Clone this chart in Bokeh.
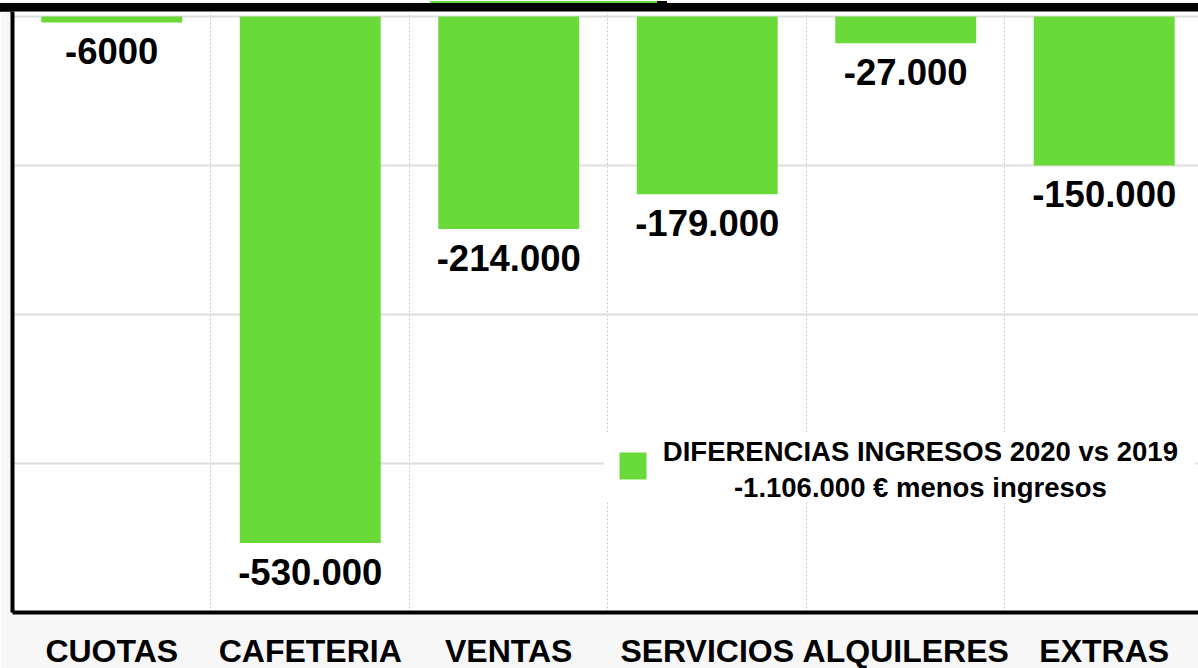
from bokeh.plotting import figure
from bokeh.models import (ColumnDataSource, Range1d, LinearAxis, FixedTicker,
                          BoxAnnotation, Label, Div)
from bokeh.layouts import column
from bokeh.embed import file_html
from bokeh.resources import INLINE

# ---- data ----
categories = ["CUOTAS", "CAFETERIA", "VENTAS", "SERVICIOS", "ALQUILERES", "EXTRAS"]
values = [-6000, -530000, -214000, -179000, -27000, -150000]
value_labels = ["-6000", "-530.000", "-214.000", "-179.000", "-27.000", "-150.000"]
y_grid_ticks = [-600000, -450000, -300000, -150000, 0]
legend_line1 = "DIFERENCIAS INGRESOS 2020 vs 2019"
legend_line2 = "-1.106.000 € menos ingresos"

GREEN = "#6ADA39"
FONT = "Liberation Sans"

xpos = [i + 0.5 for i in range(len(categories))]
src = ColumnDataSource(dict(x=xpos, top=values, lab=value_labels))

# cropped band at the very top of the picture (part of an element above)
band_html = (
    '<div style="position:relative;width:1198px;height:11px;background:#f7f7f7;margin:0;padding:0">'
    '<div style="position:absolute;left:0;top:2px;width:1198px;height:9px;background:#000"></div>'
    '<div style="position:absolute;left:430px;top:0;width:227px;height:2px;background:%s"></div>'
    '<div style="position:absolute;left:657px;top:0;width:10px;height:2px;background:#000"></div>'
    '</div>' % GREEN
)
band = Div(text=band_html, width=1198, height=11, margin=(0, 0, 0, 0))

X0, X1 = 0, 5.975
p = figure(frame_width=1186, frame_height=601, output_backend="svg",
           toolbar_location=None, x_range=Range1d(X0, X1),
           y_range=Range1d(-600000, 5030), x_axis_location=None,
           y_axis_location=None, min_border_left=12, min_border_right=0,
           min_border_top=0, min_border_bottom=10, margin=(0, 0, 0, 0))
p.background_fill_color = "white"
p.border_fill_color = "#f7f7f7"
p.outline_line_color = None

# bars
p.vbar(x="x", top="top", bottom=0, width=0.71, source=src,
       fill_color=GREEN, line_color=None)

# value labels below bar ends
p.text(x="x", y="top", text="lab", source=src, text_align="center",
       text_baseline="top", y_offset=16, text_font_size="36.5px",
       text_font_style="bold", text_color="black",
       text_font={"value": FONT})

# bottom category axis
xa = LinearAxis(ticker=FixedTicker(ticks=xpos),
                major_label_overrides={x: c for x, c in zip(xpos, categories)})
xa.axis_line_color = "black"
xa.axis_line_width = 4
xa.major_tick_line_color = None
xa.minor_tick_line_color = None
xa.major_tick_out = 0
xa.major_tick_in = 0
xa.major_label_standoff = 20
xa.major_label_text_font = FONT
xa.major_label_text_font_size = "32px"
xa.major_label_text_font_style = "bold"
xa.major_label_text_color = "black"
p.add_layout(xa, "below")

# left axis line only
ya = LinearAxis(ticker=FixedTicker(ticks=y_grid_ticks),
                major_label_overrides={t: "" for t in y_grid_ticks})
ya.axis_line_color = "black"
ya.axis_line_width = 4
ya.major_tick_line_color = None
ya.minor_tick_line_color = None
ya.major_tick_out = 0
ya.major_tick_in = 0
ya.major_label_standoff = 0
p.add_layout(ya, "left")

# grids
p.xgrid.ticker = FixedTicker(ticks=[1, 2, 3, 4, 5])
p.xgrid.grid_line_color = "#c8c8c8"
p.xgrid.grid_line_width = 1
p.xgrid.grid_line_dash = "2 2"
p.ygrid.ticker = FixedTicker(ticks=y_grid_ticks)
p.ygrid.grid_line_color = "#dddddd"
p.ygrid.grid_line_width = 2

# legend box
p.add_layout(BoxAnnotation(left=2.98, right=5.96, top=-418800, bottom=-489200,
                           fill_color="white", fill_alpha=1.0, line_color=None,
                           level="underlay"))
p.add_layout(BoxAnnotation(left=3.058, right=3.194, top=-438900, bottom=-466100,
                           fill_color=GREEN, fill_alpha=1.0, line_color=None))
for txt, yy in [(legend_line1, -437500), (legend_line2, -474500)]:
    p.add_layout(Label(x=4.574, y=yy, text=txt, text_align="center",
                       text_baseline="middle", text_font=FONT,
                       text_font_size="27.5px", text_font_style="bold",
                       text_color="black"))

layout = column(band, p, spacing=0)
open("out.html", "w").write(file_html(layout, INLINE))
